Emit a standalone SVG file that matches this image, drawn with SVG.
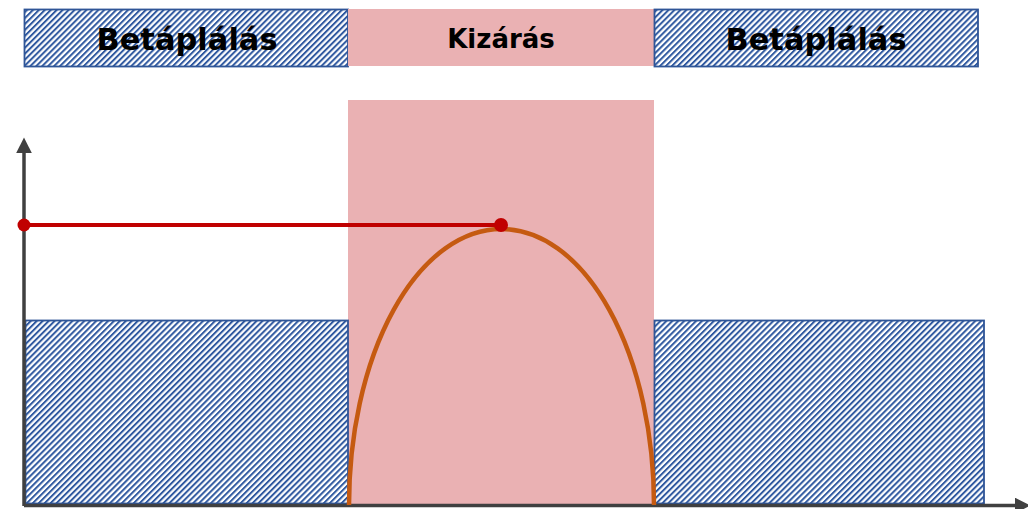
<svg xmlns="http://www.w3.org/2000/svg" width="1028" height="509" viewBox="0 0 1028 509">
<style>
.hatch{fill:url(#hp);stroke:#2F5597;stroke-width:1.8}
.pink{fill:#EAB1B3}
.lbl{font-family:"DejaVu Sans","Liberation Sans",sans-serif;font-weight:bold;fill:#000;text-anchor:middle}
.axis{stroke:#404040;stroke-width:3.5;fill:none}
</style>
<defs>
<pattern id="hp" patternUnits="userSpaceOnUse" width="4.2" height="4.2" patternTransform="rotate(45)">
<rect width="4.2" height="4.2" fill="#ffffff"/>
<rect width="2" height="4.2" fill="#3059A0"/>
</pattern>
<marker id="ah" viewBox="0 0 10 10" refX="2" refY="5" markerWidth="4.5" markerHeight="4.5" orient="auto" markerUnits="strokeWidth">
<path d="M0,0 L10,5 L0,10 Z" fill="#404040"/>
</marker>
</defs>
<g id="top-left"><rect class="hatch" x="24.5" y="9.5" width="323.5" height="57"/><text class="lbl" x="187" y="50" font-size="30.5">Betáplálás</text></g>
<g id="top-mid"><rect class="pink" x="348" y="9" width="306" height="57"/><text class="lbl" x="501" y="48" font-size="26">Kizárás</text></g>
<g id="top-right"><rect class="hatch" x="654.5" y="9.5" width="323.5" height="57"/><text class="lbl" x="816" y="50" font-size="30.5">Betáplálás</text></g>
<g id="exclusion"><rect class="pink" x="348" y="100" width="306" height="405"/></g>
<g id="feed-left"><rect class="hatch" x="25.5" y="320.5" width="322.5" height="183"/></g>
<g id="feed-right"><rect class="hatch" x="654.5" y="320.5" width="329.5" height="183"/></g>
<g id="connectors">
<path class="axis" d="M24,506 V150" marker-end="url(#ah)"/>
<path class="axis" d="M24,505.5 H1018" marker-end="url(#ah)"/>
<path d="M349,505 A152.5,276 0 0 1 654,505" fill="none" stroke="#C55A11" stroke-width="4.5"/>
<line x1="24" y1="225" x2="501" y2="225" stroke="#C00000" stroke-width="4"/>
<circle cx="24" cy="225" r="6.5" fill="#C00000"/>
<circle cx="501" cy="225" r="7" fill="#C00000"/>
</g>
</svg>
